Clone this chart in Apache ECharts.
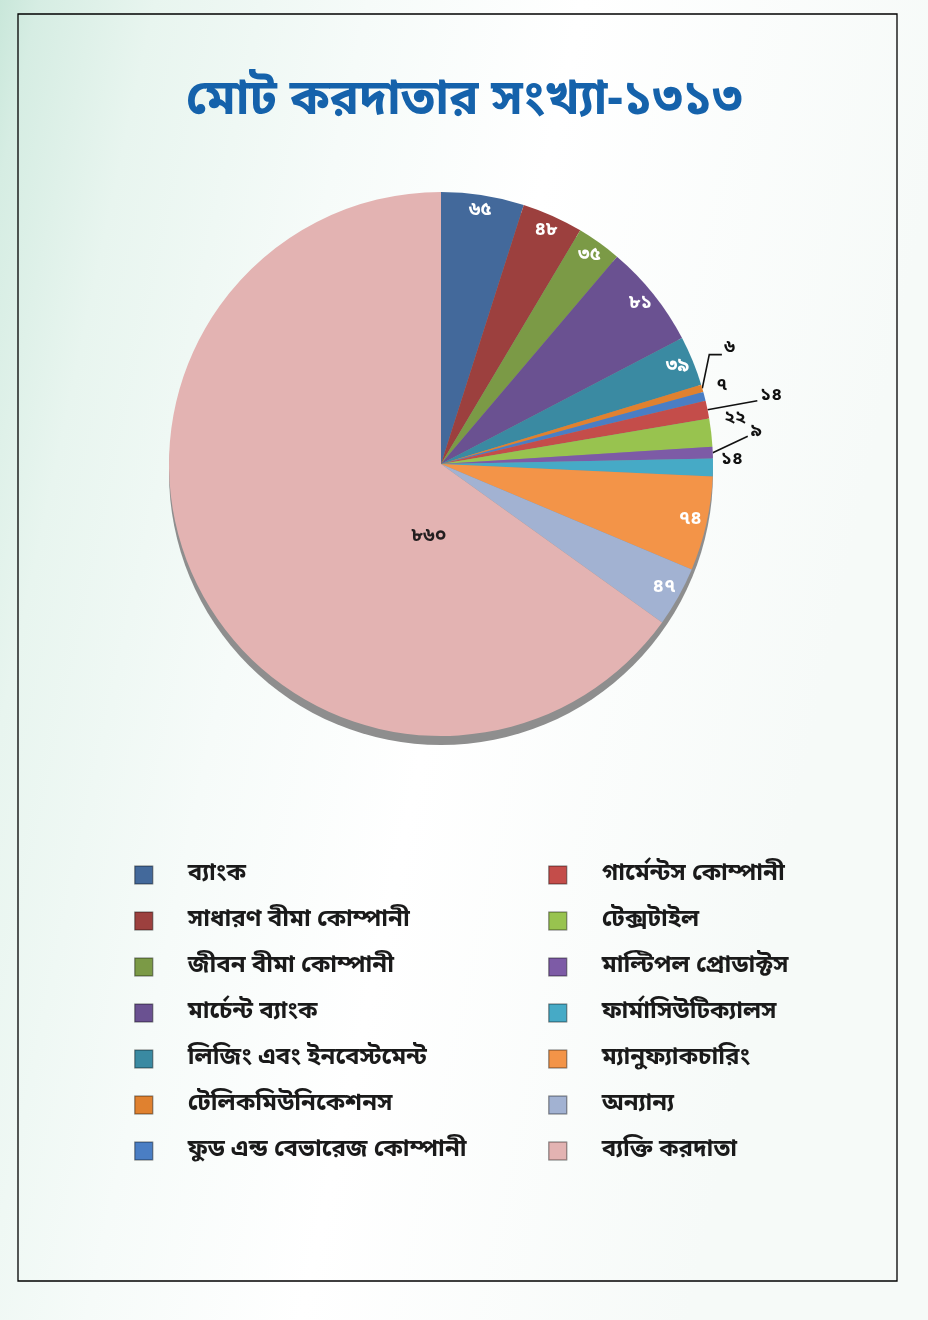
<!DOCTYPE html>
<html>
<head>
<meta charset="utf-8">
<script src="https://cdn.jsdelivr.net/npm/echarts@6/dist/echarts.min.js"></script>
<style>
  html, body { margin: 0; padding: 0; background: #ffffff; }
  #chart { width: 928px; height: 1320px; }
</style>
</head>
<body>
<div id="chart"></div>
<script>
// ---------- DATA ----------
const titleText = 'মোট করদাতার সংখ্যা-১৩১৩';
const categories = [
  'ব্যাংক',
  'সাধারণ বীমা কোম্পানী',
  'জীবন বীমা কোম্পানী',
  'মার্চেন্ট ব্যাংক',
  'লিজিং এবং ইনবেস্টমেন্ট',
  'টেলিকমিউনিকেশনস',
  'ফুড এন্ড বেভারেজ কোম্পানী',
  'গার্মেন্টস কোম্পানী',
  'টেক্সটাইল',
  'মাল্টিপল প্রোডাক্টস',
  'ফার্মাসিউটিক্যালস',
  'ম্যানুফ্যাকচারিং',
  'অন্যান্য',
  'ব্যক্তি করদাতা'
];
const values = [65, 48, 35, 81, 39, 6, 7, 14, 22, 9, 14, 74, 47, 860];
const legendLeft = categories.slice(0, 7);
const legendRight = categories.slice(7);

// ---------- STYLE ----------
const colors = ['#43699b', '#9c403e', '#7b9a46', '#6a5191', '#3a8aa2', '#e0812f', '#4a7ec4',
                '#c44d4a', '#98c34f', '#7d5ba6', '#46aac6', '#f39448', '#a2b2d2', '#e3b3b2'];
const FONT = '"Noto Sans Bengali", "Noto Sans", sans-serif';
const bnDigits = '০১২৩৪৫৬৭৮৯';
const toBn = n => String(n).replace(/\d/g, d => bnDigits[d]);

const innerIdx = [0, 1, 2, 3, 4, 11, 12];      // white labels near the rim
const bigIdx = 13;                              // black label in the big slice
// small outside labels: offsets + leader style
const outsideCfg = {
  5:  { dx: 7,  dy: -37, line: 'elbow' },
  6:  { dx: -3, dy: -7,  line: null },
  7:  { dx: 38, dy: -11, line: 'straight' },
  8:  { dx: -2, dy: -12, line: null },
  9:  { dx: 23, dy: -20, line: 'straight' },
  10: { dx: -7, dy: -7,  line: null }
};

const CX = 441, CY = 464, R = 272;

const mainData = categories.map((name, i) => {
  const item = { name: name, value: values[i], itemStyle: { color: colors[i] } };
  if (outsideCfg[i]) {
    item.label = { show: true, position: 'outside', color: '#111', fontSize: 18, fontWeight: 'bold',
                   fontFamily: FONT, formatter: p => toBn(p.value) };
    item.labelLine = { show: !!outsideCfg[i].line, length: 10, length2: 0,
                       lineStyle: { color: '#111', width: 1.6 } };
  } else if (i === bigIdx) {
    item.label = { show: true, position: 'inside', color: '#231f20', fontSize: 19, fontWeight: 'bold',
                   fontFamily: FONT, lineHeight: 20, formatter: p => '\n' + toBn(p.value),
                   padding: [0, 0, 0, 223] };
  }
  return item;
});

const overlayData = categories.map((name, i) => ({
  name: name, value: values[i],
  label: { show: innerIdx.indexOf(i) >= 0 }
}));

const legendBase = {
  orient: 'vertical', top: 855, icon: 'rect',
  itemWidth: 18, itemHeight: 18, itemGap: 16, selectedMode: false,
  itemStyle: { borderColor: 'rgba(0,0,0,0.35)', borderWidth: 1.5 },
  textStyle: { fontFamily: FONT, fontSize: 24, fontWeight: 'bold', color: '#1a1a1a', lineHeight: 30,
               padding: [0, 0, 0, 30] }
};

const option = {
  backgroundColor: {
    type: 'linear', x: 0, y: 0, x2: 1, y2: 0.15,
    colorStops: [
      { offset: 0, color: '#c9e7da' },
      { offset: 0.04, color: '#d6ede3' },
      { offset: 0.16, color: '#e8f5ef' },
      { offset: 0.38, color: '#f6fbf9' },
      { offset: 0.6, color: '#ffffff' },
      { offset: 1, color: '#f6faf8' }
    ]
  },
  animation: false,
  graphic: [
    { type: 'rect', shape: { x: 18, y: 14, width: 879, height: 1267 },
      style: { fill: 'none', stroke: '#000', lineWidth: 1.3 }, silent: true, z: 100 }
  ],
  title: {
    text: titleText, left: 'center', top: 75,
    textStyle: { fontFamily: FONT, fontSize: 49, fontWeight: 'bold', color: '#1562ab' }
  },
  legend: [
    Object.assign({ data: legendLeft, left: 129 }, legendBase),
    Object.assign({ data: legendRight, left: 543 }, legendBase)
  ],
  series: [
    {
      type: 'pie', name: 'main', center: [CX, CY], radius: R, startAngle: 90, clockwise: true,
      avoidLabelOverlap: false, z: 3, silent: true,
      label: { show: false }, labelLine: { show: false },
      emphasis: { disabled: true },
      data: mainData,
      labelLayout: function (params) {
        const cfg = outsideCfg[params.dataIndex];
        if (!cfg) return {};
        const out = { dx: cfg.dx, dy: cfg.dy };
        if (cfg.line && params.labelLinePoints) {
          const p0 = params.labelLinePoints[0];
          const rx = params.labelRect.x + cfg.dx;
          const cy = params.labelRect.y + params.labelRect.height / 2 + cfg.dy;
          if (cfg.line === 'elbow') {
            out.labelLinePoints = [[p0[0], p0[1]], [p0[0] + 7, cy + 6], [rx - 2, cy + 6]];
          } else {
            out.labelLinePoints = [[p0[0], p0[1]], [rx - 3, cy + 4], [rx - 3, cy + 4]];
          }
        }
        return out;
      }
    },
    {
      type: 'pie', name: 'labels', center: [CX, CY], radius: [233, R], startAngle: 90, clockwise: true,
      avoidLabelOverlap: false, z: 4, silent: true,
      itemStyle: { color: 'rgba(0,0,0,0)' },
      label: { position: 'inside', color: '#ffffff', fontSize: 19, fontWeight: 'bold', fontFamily: FONT,
               formatter: p => toBn(p.value) },
      labelLine: { show: false },
      emphasis: { disabled: true },
      data: overlayData
    },
    {
      type: 'pie', name: 'shadow', center: [CX, CY + 9], radius: R, z: 1, silent: true,
      label: { show: false }, labelLine: { show: false }, emphasis: { disabled: true },
      itemStyle: { color: '#8e8e8e' },
      data: [{ value: 1, name: '' }]
    }
  ]
};

const chart = echarts.init(document.getElementById('chart'), null, { renderer: 'canvas' });
chart.setOption(option);
</script>
</body>
</html>
